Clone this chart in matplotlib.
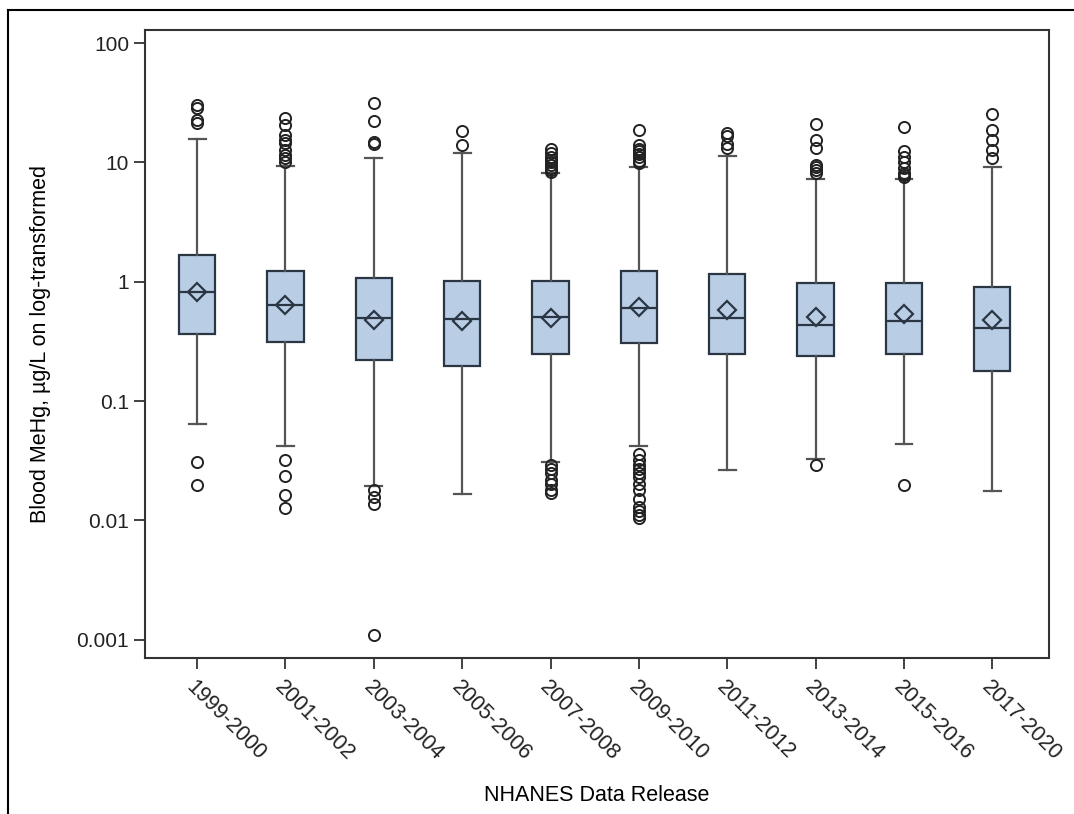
import matplotlib
matplotlib.use('Agg')
import matplotlib.pyplot as plt
from matplotlib.lines import Line2D

# Survey cycles
releases = ['1999-2000', '2001-2002', '2003-2004', '2005-2006', '2007-2008',
            '2009-2010', '2011-2012', '2013-2014', '2015-2016', '2017-2020']

# Box statistics (ug/L)
q1 = [0.364, 0.313, 0.22, 0.196, 0.25, 0.304, 0.247, 0.241, 0.25, 0.18]
medians = [0.818, 0.633, 0.50, 0.486, 0.508, 0.605, 0.50, 0.432, 0.47, 0.406]
q3 = [1.67, 1.24, 1.08, 1.01, 1.01, 1.24, 1.16, 0.968, 0.98, 0.906]
means = [0.82, 0.64, 0.48, 0.47, 0.50, 0.61, 0.578, 0.51, 0.54, 0.477]
whisker_low = [0.0637, 0.0421, 0.0196, 0.0166, 0.031, 0.0421, 0.0264, 0.033, 0.044, 0.0176]
whisker_high = [15.8, 9.3, 10.9, 11.9, 8.1, 9.2, 11.3, 7.2, 7.3, 9.2]

# Outliers above / below the whiskers
outliers_high = [
    [21.6, 22.5, 28.5, 30.5],
    [10.1, 10.8, 11.5, 12.7, 14.5, 15.4, 17.0, 20.5, 23.4],
    [14.2, 14.8, 22.3, 31.2],
    [14.0, 18.4],
    [8.3, 8.6, 9.0, 9.5, 10.0, 10.5, 11.0, 12.0, 12.9],
    [9.8, 10.3, 11.0, 11.8, 12.5, 13.0, 14.0, 18.7],
    [13.1, 14.4, 16.5, 17.5],
    [8.1, 8.6, 9.2, 9.5, 13.1, 15.4, 21.0],
    [7.5, 7.8, 8.2, 9.0, 10.0, 11.0, 12.5, 20.0],
    [10.8, 12.7, 15.4, 18.7, 25.7],
]
outliers_low = [
    [0.031, 0.0197],
    [0.0318, 0.0235, 0.0163, 0.0126],
    [0.0179, 0.0157, 0.0138, 0.00109],
    [],
    [0.029, 0.027, 0.025, 0.022, 0.020, 0.018, 0.017],
    [0.036, 0.032, 0.029, 0.027, 0.025, 0.023, 0.020, 0.018, 0.015, 0.013, 0.012, 0.011, 0.0105],
    [],
    [0.029],
    [0.0197],
    [],
]

plt.rcParams['font.family'] = ['Liberation Sans', 'DejaVu Sans']
plt.rcParams['text.color'] = '#222222'
plt.rcParams['xtick.labelcolor'] = '#222222'
plt.rcParams['ytick.labelcolor'] = '#222222'

fig = plt.figure(figsize=(10.74, 8.14), dpi=100)
ax = fig.add_axes([0.135, 0.192, 0.842, 0.771])

# Build the stats for bxp
stats = []
for i in range(len(releases)):
    stats.append({
        'label': releases[i],
        'q1': q1[i], 'med': medians[i], 'q3': q3[i], 'mean': means[i],
        'whislo': whisker_low[i], 'whishi': whisker_high[i],
        'fliers': outliers_high[i] + outliers_low[i],
    })

edge = '#2a3644'
ax.bxp(stats, positions=range(len(releases)), widths=0.41, patch_artist=True,
       showmeans=True,
       boxprops=dict(facecolor='#b9cde5', edgecolor=edge, linewidth=1.6),
       medianprops=dict(color=edge, linewidth=1.6),
       whiskerprops=dict(color='#555555', linewidth=1.6),
       capprops=dict(color='#555555', linewidth=1.6),
       capwidths=0.19,
       meanprops=dict(marker='D', markersize=9, markerfacecolor='none',
                      markeredgecolor=edge, markeredgewidth=1.6),
       flierprops=dict(marker='o', markersize=8, markerfacecolor='none',
                       markeredgecolor='#222222', markeredgewidth=1.4))

ax.set_yscale('log')
ax.set_ylim(0.000707, 128.5)
ax.set_xlim(-0.59, 9.645)
ax.set_yticks([0.001, 0.01, 0.1, 1, 10, 100])
ax.set_yticklabels(['0.001', '0.01', '0.1', '1', '10', '100'], fontsize=15)
ax.minorticks_off()
ax.set_xticks(range(len(releases)))
ax.set_xticklabels(releases, fontsize=15.5, rotation=-45, ha='left', va='top',
                   rotation_mode='anchor')
ax.tick_params(axis='both', length=8, width=1.3, color='#333333', direction='out')
ax.tick_params(axis='x', pad=6)

for s in ax.spines.values():
    s.set_linewidth(1.5)
    s.set_color('#333333')

ax.set_ylabel('Blood MeHg, µg/L on log-transformed', fontsize=15.5, labelpad=18)
ax.set_xlabel('NHANES Data Release', fontsize=15.5, labelpad=14)

# Outer frame (top and left edges of the picture)
fig.add_artist(Line2D([8 / 1074, 1.0], [1 - 10 / 814, 1 - 10 / 814],
                      transform=fig.transFigure, color='black', linewidth=1.5))
fig.add_artist(Line2D([8 / 1074, 8 / 1074], [0.0, 1 - 10 / 814],
                      transform=fig.transFigure, color='black', linewidth=1.5))

fig.savefig('out.png', dpi=100)
